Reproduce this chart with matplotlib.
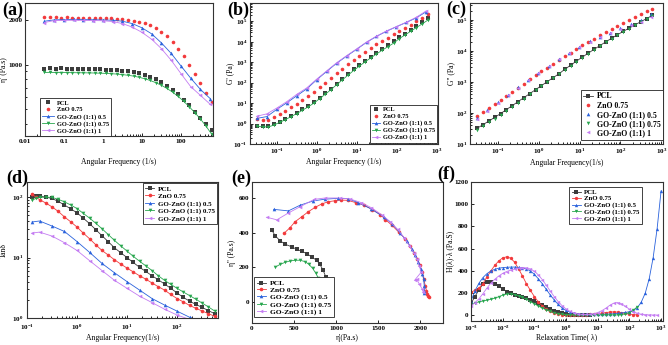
import matplotlib
matplotlib.use('Agg')
import matplotlib.pyplot as plt
from matplotlib.ticker import NullFormatter

plt.rcParams['font.family'] = ['Liberation Serif', 'DejaVu Serif']
plt.rcParams['font.weight'] = 'bold'
plt.rcParams['mathtext.fontset'] = 'custom'
plt.rcParams['mathtext.rm'] = 'Liberation Serif:bold'
plt.rcParams['mathtext.bf'] = 'Liberation Serif:bold'
plt.rcParams['mathtext.default'] = 'bf'

labels = ['PCL', 'ZnO 0.75', 'GO-ZnO (1:1) 0.5', 'GO-ZnO (1:1) 0.75', 'GO-ZnO (1:1) 1']
colors = ['#3c3c3c', '#f23a3c', '#2a62dc', '#28a64e', '#c47cf2']
markers = ['s', 'o', '^', 'v', '<']

# angular frequency sweeps (rad/s)
w_dense = [0.0314, 0.0436, 0.0606, 0.0842, 0.117, 0.162, 0.226, 0.314, 0.436, 0.606, 0.842,
           1.17, 1.62, 2.26, 3.14, 4.36, 6.06, 8.42, 11.7, 16.2, 22.6, 31.4, 43.6, 60.6, 84.2,
           117, 162, 226, 314, 436, 606]
w_sparse = [0.0314, 0.0558, 0.0993, 0.177, 0.314, 0.558, 0.993, 1.77, 3.14, 5.58, 9.93,
            17.7, 31.4, 55.8, 99.3, 177, 314, 558]

# (a) eta'
eta_pcl = [940, 945, 940, 942, 938, 937, 935, 934, 932, 930, 928, 925, 921, 916, 909, 900, 888,
           872, 852, 827, 797, 762, 722, 678, 630, 580, 530, 482, 437, 397, 362]
eta_zno = [2090, 2080, 2085, 2075, 2080, 2070, 2075, 2065, 2070, 2060, 2055, 2050, 2045, 2035,
           2020, 2000, 1975, 1940, 1895, 1835, 1760, 1665, 1550, 1420, 1280, 1140, 1000, 870,
           750, 645, 560]
eta_go05 = [1960, 2000, 2010, 2015, 2010, 2005, 2000, 1990, 1960, 1890, 1770, 1610, 1400, 1190,
            980, 810, 680, 590]
eta_go075 = [885, 886, 884, 884, 883, 882, 881, 880, 879, 877, 875, 872, 868, 863, 856, 847, 836,
             821, 803, 781, 755, 725, 690, 652, 610, 566, 520, 474, 430, 385, 340]
eta_go1 = [1920, 1980, 1985, 1990, 1985, 1980, 1975, 1950, 1890, 1790, 1650, 1480, 1280, 1070,
           870, 710, 620, 540]

# (b) G'
g1_pcl = [0.8, 0.75, 0.75, 0.95, 1.25, 1.7, 2.4, 3.4, 4.9, 7.2, 11, 18, 30, 52, 90, 155, 265, 450,
          740, 1200, 1900, 3000, 4600, 7000, 11000, 16500, 25000, 38000, 60000, 95000, 150000]
g1_zno = [1.7, 1.45, 1.5, 2.0, 2.9, 4.2, 6.2, 9.0, 14, 22, 36, 60, 100, 170, 290, 490, 820, 1350,
          2100, 3300, 5000, 7500, 11000, 16000, 23000, 33000, 48000, 70000, 100000, 150000, 230000]
g1_go05 = [1.8, 2.2, 5.0, 10.5, 23, 50, 140, 360, 900, 2000, 4300, 9500, 18500, 33000, 55000,
           90000, 150000, 300000]
g1_go075 = [0.72, 0.7, 0.68, 0.85, 1.15, 1.55, 2.2, 3.1, 4.5, 6.6, 10, 16.5, 27, 46, 80, 138, 235,
            400, 650, 1050, 1650, 2550, 3900, 5800, 8600, 14500, 21500, 33000, 50000, 75000, 115000]
g1_go1 = [2.3, 3.0, 5.8, 12, 27, 56, 150, 380, 950, 2100, 4500, 9800, 19000, 34000, 56000, 92000,
          160000, 330000]

# (c) G''
g2_pcl = [32, 42, 55, 72, 95, 128, 172, 232, 312, 420, 565, 760, 1020, 1370, 1830, 2550, 3450,
          4700, 6300, 8400, 11200, 14800, 19500, 25500, 33000, 42500, 54000, 69000, 87000,
          110000, 140000]
g2_zno = [80, 107, 145, 196, 265, 360, 490, 660, 890, 1200, 1620, 2180, 2900, 3850, 5100, 6700,
          8800, 11500, 15000, 19400, 25000, 32000, 40500, 51000, 64000, 80000, 100000, 124000,
          153000, 188000, 230000]
g2_go05 = [70, 125, 220, 385, 665, 1140, 1970, 3320, 5350, 8600, 13700, 20500, 28500, 39000,
           54000, 73000, 100000, 150000]
g2_go075 = [28, 38, 50, 66, 88, 118, 160, 216, 292, 395, 535, 720, 970, 1310, 1760, 2400, 3250,
            4450, 6000, 8000, 10700, 14200, 18700, 24500, 32000, 41000, 52500, 67000, 85000,
            107000, 135000]
g2_go1 = [65, 120, 215, 380, 660, 1130, 1950, 3300, 5300, 8500, 13500, 20000, 27500, 37000, 50000,
          66000, 88000, 120000]

# (d) tan delta
wd_dense = [0.126, 0.15, 0.178, 0.237, 0.316, 0.422, 0.562, 0.75, 1.0, 1.33, 1.78, 2.37, 3.16,
            4.22, 5.62, 7.5, 10, 13.3, 17.8, 23.7, 31.6, 42.2, 56.2, 75, 100, 133, 178, 237, 316,
            422, 562]
wd_sparse = [0.126, 0.178, 0.316, 0.562, 1.0, 1.78, 3.16, 5.62, 10, 17.8, 31.6, 56.2, 100, 178,
             316, 562]
tan_pcl = [101, 103, 104, 100, 95, 85, 74, 64, 55, 45, 36.5, 29, 23, 18.3, 14.5, 12, 10, 8.3, 6.9,
           5.9, 5.0, 4.3, 3.65, 3.1, 2.6, 2.2, 1.9, 1.68, 1.5, 1.33, 1.18]
tan_zno = [112, 100, 91, 80, 69, 58, 47, 39, 32, 25.5, 20.5, 16.3, 13.1, 11.0, 9.2, 7.8, 6.7, 5.8,
           5.0, 4.4, 3.8, 3.3, 2.9, 2.45, 2.1, 1.85, 1.62, 1.45, 1.31, 1.18, 1.07]
tan_go05 = [38.8, 40.3, 33.3, 27, 18.4, 12.2, 8.0, 5.6, 4.0, 2.9, 2.1, 1.64, 1.3, 1.03, 0.85, 0.7]
tan_go075 = [89, 95, 99, 100, 99, 92, 83.5, 74, 64.7, 54, 45, 37, 30, 24, 19.2, 15.6, 12.8, 10.5,
             8.7, 7.3, 6.1, 5.0, 4.2, 3.6, 3.1, 2.7, 2.35, 2.05, 1.77, 1.53, 1.31]
tan_go1 = [25.4, 26.4, 22.7, 17.6, 13.1, 8.9, 6.1, 4.2, 3.1, 2.3, 1.8, 1.4, 1.12, 0.95, 0.8, 0.68]

# (e) Cole-Cole: eta' (x) and eta'' (y)
ex_pcl = [236, 276, 335, 394, 472, 531, 591, 650, 709, 768, 807, 846, 878, 895, 906, 915, 922,
          928, 932, 935, 937]
ey_pcl = [415, 382, 353, 333, 318, 304, 292, 279, 259, 240, 216, 181, 142, 118, 94, 70, 50, 35,
          22, 14, 8]
ex_zno = [386, 453, 512, 591, 669, 748, 827, 905, 984, 1063, 1142, 1234, 1333, 1430, 1527, 1586,
          1664, 1743, 1820, 1878, 1925, 1965, 1995, 2023, 2042, 2058, 2073, 2085, 2095, 2100]
ey_zno = [399, 430, 464, 493, 522, 547, 567, 580, 586, 590, 588, 575, 560, 535, 505, 476, 443,
          404, 366, 321, 282, 249, 210, 171, 132, 93, 64, 45, 32, 25]
ex_go05 = [256, 433, 571, 728, 866, 1020, 1142, 1260, 1410, 1567, 1664, 1761, 1840, 1898, 1937,
           1977, 2004, 2023, 2039, 2047, 2050, 2045]
ey_go05 = [536, 527, 560, 585, 595, 600, 598, 575, 540, 491, 453, 398, 351, 307, 268, 229, 191,
           162, 132, 93, 64, 50]
ex_go075 = [276, 335, 394, 453, 512, 571, 630, 677, 720, 756, 787, 815, 835, 850, 862, 870]
ey_go075 = [200, 216, 228, 236, 240, 240, 232, 216, 193, 166, 138, 107, 80, 55, 31, 14]
ex_go1 = [177, 295, 433, 571, 740, 866, 1043, 1161, 1299, 1420, 1540, 1640, 1730, 1810, 1870,
          1920, 1960, 1990, 2010, 1935, 1960, 1990, 2020, 2035]
ey_go1 = [490, 475, 515, 551, 594, 602, 602, 597, 575, 545, 505, 465, 420, 370, 325, 285, 245,
          205, 170, 125, 128, 100, 75, 55]

# (f) relaxation spectrum
lam = [0.001, 0.00133, 0.00178, 0.00237, 0.00316, 0.00422, 0.00562, 0.0075, 0.01, 0.0133, 0.0178,
       0.0237, 0.0316, 0.0422, 0.0562, 0.075, 0.1, 0.133, 0.178, 0.237, 0.316, 0.422, 0.562, 0.75,
       1.0, 1.33, 1.78, 2.37, 3.16, 4.22, 5.62, 7.5, 10, 13.3, 17.8, 23.7, 31.6, 42.2, 56.2, 75,
       100, 133, 178, 237, 316, 422, 562, 750, 1000]
h_pcl = [108, 170, 230, 280, 305, 300, 285, 262, 238, 215, 198, 185, 175, 165, 155, 143, 128, 110,
         92, 74, 57, 42, 29, 19, 12, 7, 4, 3, 2, 2, 2]
h_zno = [210, 225, 245, 285, 345, 400, 450, 490, 518, 527, 515, 480, 420, 355, 285, 225, 170, 122,
         85, 57, 36, 22, 13, 8, 6, 5, 5, 5, 6, 7, 9, 12, 16, 21, 26, 30, 32, 30, 25, 18, 12, 8, 5]
h_go05 = [130, 220, 290, 340, 375, 400, 415, 425, 430, 433, 435, 435, 433, 428, 418, 400, 370, 330,
          285, 235, 185, 140, 100, 68, 45, 30, 20, 14, 11, 10, 9, 9, 9, 10, 11, 13, 15, 18, 22, 27,
          34, 45, 70, 120, 200, 330, 520, 780, 1120]
h_go075 = [100, 112, 122, 130, 137, 145, 155, 168, 182, 192, 195, 188, 176, 162, 145, 125, 105, 85,
           66, 50, 36, 25, 17, 11, 8, 6, 5, 5, 5, 5, 5, 5, 5, 5, 5, 5, 5, 5, 8, 14, 25, 45, 80]
h_go1 = [84, 115, 150, 195, 245, 290, 325, 355, 378, 395, 408, 418, 425, 430, 428, 418, 398, 365,
         322, 272, 220, 170, 125, 88, 58, 37, 23, 14, 10, 9, 11, 16, 26, 42, 64, 90, 110, 116, 105,
         82, 56, 34, 19, 11, 7, 5, 4, 4]

W, H = 668, 345
fig = plt.figure(figsize=(W / 100, H / 100), dpi=100)


def box(l, t, r, b):
    return fig.add_axes([l / W, 1 - b / H, (r - l) / W, (b - t) / H])


def style(ax):
    for s in ax.spines.values():
        s.set_linewidth(0.8)
        s.set_color('#333333')
    ax.tick_params(which='both', direction='in', labelsize=5, width=0.6, pad=2)
    ax.tick_params(which='major', length=2.5)
    ax.tick_params(which='minor', length=1.3)


def draw(ax, xs, ys, lined, ms=2.6):
    for i in range(5):
        ax.plot(xs[i], ys[i], color=colors[i], marker=markers[i], ms=ms, mew=0,
                lw=0.6 if lined[i] else 0, label=labels[i])


def legend(ax, loc, anchor, fs, hl, sp=0.2):
    lg = ax.legend(loc=loc, bbox_to_anchor=anchor, fontsize=fs, frameon=True, fancybox=False,
                   framealpha=1, edgecolor='#222222', borderpad=0.35, labelspacing=sp,
                   handlelength=hl, handletextpad=0.5, borderaxespad=0)
    lg.get_frame().set_linewidth(0.6)


def axlabels(ax, xl, yl, xy, yx):
    # xy: top of the x label, yx: right side of the y label (axes coords)
    ax.set_xlabel(xl, fontsize=5.5)
    ax.set_ylabel(yl, fontsize=5.5)
    ax.xaxis.set_label_coords(0.5, xy)
    ax.yaxis.set_label_coords(yx, 0.5)


# (a)
ax = box(25, 3, 213, 136)
draw(ax, [w_dense, w_dense, w_sparse, w_dense, w_sparse],
     [eta_pcl, eta_zno, eta_go05, eta_go075, eta_go1], [0, 0, 1, 1, 1])
ax.set_xscale('log')
ax.set_yscale('log')
ax.set_xlim(0.01, 660)
ax.set_ylim(330, 2600)
ax.set_xticks([0.01, 0.1, 1, 10, 100], ['0.01', '0.1', '1', '10', '100'])
ax.set_yticks([1000, 2000], ['1000', '2000'])
ax.yaxis.set_minor_formatter(NullFormatter())
style(ax)
axlabels(ax, 'Angular Frequency (1/s)', "η' (Pa.s)", -0.165, -0.088)
legend(ax, 'lower left', (0.08, 0.0), 4.6, 1.8)

# (b)
ax = box(250, 3, 438, 144)
draw(ax, [w_dense, w_dense, w_sparse, w_dense, w_sparse],
     [g1_pcl, g1_zno, g1_go05, g1_go075, g1_go1], [0, 0, 1, 1, 1])
ax.set_xscale('log')
ax.set_yscale('log')
ax.set_xlim(0.021, 1100)
ax.set_ylim(0.1, 8e5)
ax.set_xticks([0.1, 1, 10, 100, 1000])
ax.set_yticks([0.1, 1, 10, 100, 1e3, 1e4, 1e5])
style(ax)
axlabels(ax, 'Angular Frequency (1/s)', "G' (Pa)", -0.1, -0.082)
legend(ax, 'lower right', (0.995, 0.01), 4.6, 1.1)

# (c)
ax = box(470, 3, 663, 144)
draw(ax, [w_dense, w_dense, w_sparse, w_dense, w_sparse],
     [g2_pcl, g2_zno, g2_go05, g2_go075, g2_go1], [1, 0, 0, 0, 0])
ax.set_xscale('log')
ax.set_yscale('log')
ax.set_xlim(0.021, 1100)
ax.set_ylim(10, 3.5e5)
ax.set_xticks([0.1, 1, 10, 100, 1000])
ax.set_yticks([10, 100, 1e3, 1e4, 1e5])
style(ax)
axlabels(ax, 'Angular Frequency(1/s)', 'G" (Pa)', -0.106, -0.078)
legend(ax, 'lower right', (1.0, 0.03), 5.6, 1.2, 0.15)

# (d)
ax = box(27, 182, 218, 318)
draw(ax, [wd_dense, wd_dense, wd_sparse, wd_dense, wd_sparse],
     [tan_pcl, tan_zno, tan_go05, tan_go075, tan_go1], [1, 1, 1, 1, 1])
ax.set_xscale('log')
ax.set_yscale('log')
ax.set_xlim(0.1, 660)
ax.set_ylim(1, 178)
ax.set_xticks([0.1, 1, 10, 100])
ax.set_yticks([1, 10, 100])
ax.yaxis.set_minor_formatter(NullFormatter())
style(ax)
ax.tick_params(axis='x', which='major', pad=3.2)
ax.tick_params(axis='y', which='major', pad=2.8)
axlabels(ax, 'Angular Frequency(1/s)', 'Tanδ', -0.115, -0.1)
legend(ax, 'upper right', (0.995, 0.99), 5.0, 1.3)

# (e)
ax = box(252, 182, 443, 323)
draw(ax, [ex_pcl, ex_zno, ex_go05, ex_go075, ex_go1],
     [ey_pcl, ey_zno, ey_go05, ey_go075, ey_go1], [1, 1, 1, 1, 1])
ax.set_xlim(0, 2270)
ax.set_ylim(-125, 695)
ax.set_xticks([0, 500, 1000, 1500, 2000])
ax.set_yticks([0, 200, 400, 600])
style(ax)
axlabels(ax, "η'(Pa.s)", "η'' (Pa.s)", -0.078, -0.085)
legend(ax, 'lower left', (0.01, 0.04), 5.4, 1.3, 0.08)

# (f)
ax = box(471, 182, 663, 321)
draw(ax, [lam[:len(h_pcl)], lam[:len(h_zno)], lam[:len(h_go05)], lam[:len(h_go075)],
          lam[:len(h_go1)]],
     [h_pcl, h_zno, h_go05, h_go075, h_go1], [1, 1, 1, 1, 1], ms=2.4)
ax.set_xscale('log')
ax.set_xlim(1e-3, 1150)
ax.set_ylim(-50, 1200)
ax.set_xticks([1e-3, 1e-2, 1e-1, 1, 10, 100, 1000])
ax.set_yticks([0, 200, 400, 600, 800, 1000, 1200])
style(ax)
axlabels(ax, 'Relaxation Time( λ)', 'H(λ)·λ (Pa.S)', -0.086, -0.085)
legend(ax, 'upper right', (0.89, 0.965), 4.9, 1.3, 0.1)

for txt, x, y in [('(a)', 2, 10), ('(b)', 227, 10), ('(c)', 446, 9),
                  ('(d)', 6, 178), ('(e)', 231, 178), ('(f)', 437, 174)]:
    fig.text(x / W, 1 - y / H, txt, fontsize=13, fontweight='bold', va='center', ha='left')

fig.savefig('out.png', dpi=100)
